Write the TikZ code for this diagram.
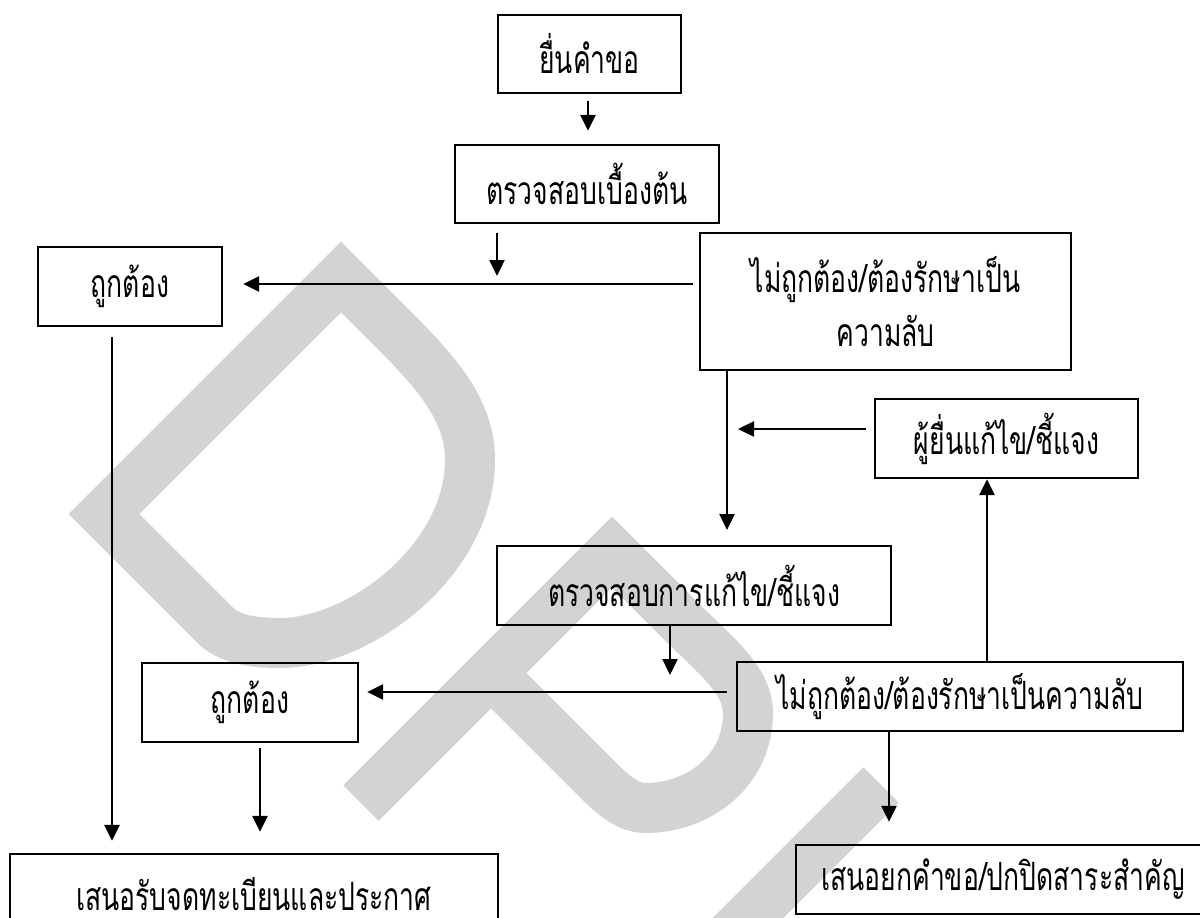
\documentclass[tikz,border=0pt]{standalone}
\usepackage{fontspec}
\newfontfamily\thaifont[Script=Thai,FakeStretch=0.68]{Loma}
\usetikzlibrary{arrows.meta,calc}
\definecolor{wm}{RGB}{211,211,211}
\begin{document}
\begin{tikzpicture}[x=1pt,y=-1pt,
  box/.style={draw, line width=2.3pt, inner sep=0pt, align=center,
    font=\thaifont\fontsize{39}{54}\selectfont},
  arr/.style={line width=2.4pt, -{Triangle[length=16pt,width=15pt]}},
  wmark/.style={wm, line width=50pt, line join=miter, line cap=butt}]
\useasboundingbox (0,0) rectangle (1200,918);
% watermark
\draw[wmark] (104,514) -- (341,277) -- (392,328)
  .. controls (437,373) and (470,410) .. (470,460)
  .. controls (470,560) and (360,643) .. (280,643)
  .. controls (255,643) and (230,640) .. (215,625) -- cycle;
\draw[wmark] (361,803) -- (612,552) -- (680,620)
  .. controls (715,655) and (748,680) .. (748,713)
  .. controls (748,770) and (700,808) .. (645,808)
  .. controls (630,808) and (615,797) .. (600,782) -- (491,673);
\draw[wmark] (881,785) -- (711,955);
% boxes
\node[box, minimum width=183pt, minimum height=78pt] (b1) at (589.5,54) {ยื่นคำขอ};
\node[box, minimum width=264pt, minimum height=78pt] (b2) at (587,184) {ตรวจสอบเบื้องต้น};
\node[box, minimum width=184pt, minimum height=79pt] (ok1) at (130,286.5) {ถูกต้อง};
\node[box, minimum width=371pt, minimum height=137pt] (r1) at (885.5,301.5) {ไม่ถูกต้อง/ต้องรักษาเป็น\\ความลับ};
\node[box, minimum width=263pt, minimum height=79pt] (fix) at (1006.5,438.5) {ผู้ยื่นแก้ไข/ชี้แจง};
\node[box, minimum width=394pt, minimum height=79pt] (b3) at (694,585.5) {ตรวจสอบการแก้ไข/ชี้แจง};
\node[box, minimum width=216pt, minimum height=79pt] (ok2) at (250,702.5) {ถูกต้อง};
\node[box, minimum width=446pt, minimum height=69pt] (r2) at (960,696.5) {ไม่ถูกต้อง/ต้องรักษาเป็นความลับ};
\node[box, minimum width=488pt, minimum height=80pt] (bl) at (254,894) {เสนอรับจดทะเบียนและประกาศ};
\node[box, minimum width=414pt, minimum height=69pt] (br) at (1003,879.5) {เสนอยกคำขอ/ปกปิดสาระสำคัญ};
% free ends
\coordinate (a1x) at (588,0);
\coordinate (a2s) at (497,233);
\coordinate (a2e) at (497,276);
\coordinate (h1) at (693,284);
\coordinate (v1s) at (112,337);
\coordinate (v2e) at (727,530);
\coordinate (h2e) at (738,429);
\coordinate (a7e) at (670,675);
\coordinate (h3) at (727,692);
\coordinate (upx) at (987,600);
\coordinate (dx1) at (260,600);
\coordinate (dx2) at (889,600);
% connectors
\draw[arr, shorten <=7pt, shorten >=13pt] (b1.south -| a1x) -- (b2.north -| a1x);
\draw[arr] (a2s) -- (a2e);
\draw[arr, shorten >=20pt] (h1) -- (ok1.east |- h1);
\draw[arr, shorten >=12pt] (v1s) -- (bl.north -| v1s);
\draw[arr] (r1.south -| v2e) -- (v2e);
\draw[arr, shorten <=8pt] (fix.west |- h2e) -- (h2e);
\draw[arr] (b3.south -| a7e) -- (a7e);
\draw[arr, shorten >=8pt] (h3) -- (ok2.east |- h3);
\draw[arr] (r2.north -| upx) -- (fix.south -| upx);
\draw[arr, shorten <=5pt, shorten >=21pt] (ok2.south -| dx1) -- (bl.north -| dx1);
\draw[arr, shorten >=22pt] (r2.south -| dx2) -- (br.north -| dx2);
\end{tikzpicture}
\end{document}
